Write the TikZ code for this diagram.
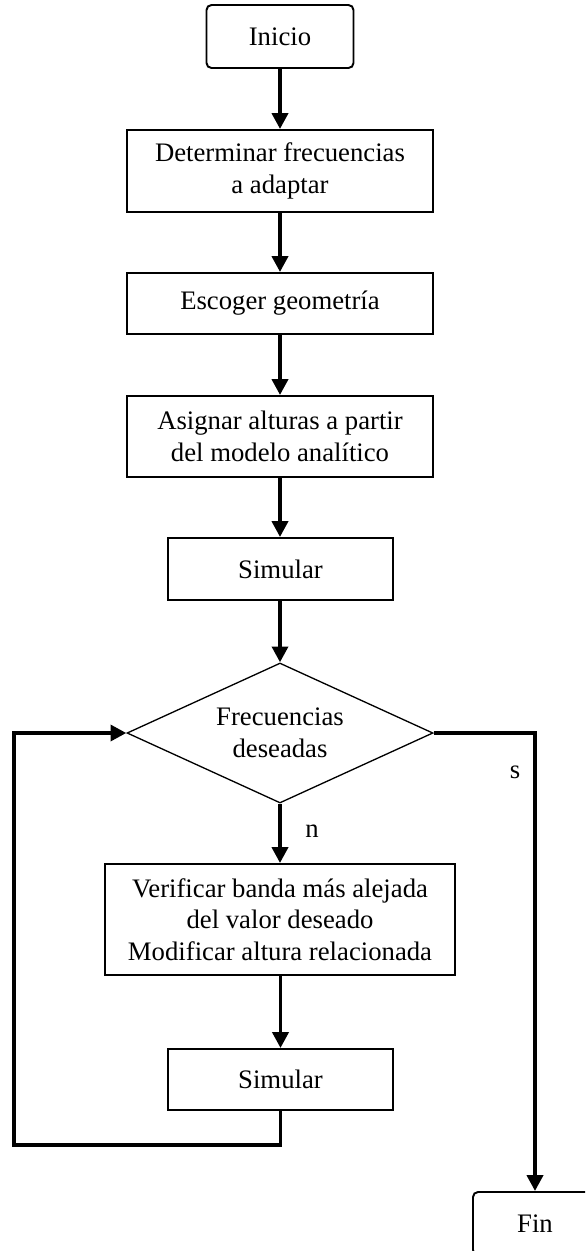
\documentclass[tikz,border=0pt]{standalone}
\usepackage{fontspec}
\setmainfont{Liberation Serif}
\usetikzlibrary{arrows.meta,shapes.geometric}

\tikzset{
  proc/.style={draw, line width=1.1pt, align=center, inner sep=0pt},
  term/.style={draw, line width=1.1pt, rounded corners=1mm, inner sep=0pt},
  flow/.style={line width=2.2pt, -{Triangle[length=9pt,width=9pt]}},
}

\begin{document}
\begin{tikzpicture}[x=0.2mm, y=-0.2mm, font=\fontsize{15.2}{18}\selectfont, line join=miter]

% Page frame (1 unit = 1 px of a 585 x 1251 page)
\clip (0,0) rectangle (585,1251);
\useasboundingbox (0,0) rectangle (585,1251);

% Start
\node[term, minimum width=29.4mm, minimum height=12.6mm] (ini) at (280,36.5) {Inicio};

% Main column of steps
\node[proc, minimum width=61.2mm, minimum height=16.4mm] (det) at (280,171)
  {Determinar frecuencias\\a adaptar};
\node[proc, minimum width=61.2mm, minimum height=12.2mm] (geo) at (280,303.5)
  {Escoger geometría};
\node[proc, minimum width=61.2mm, minimum height=16.2mm] (asig) at (280,436.5)
  {Asignar alturas a partir\\del modelo analítico};
\node[proc, minimum width=45mm, minimum height=12.4mm] (sim1) at (280.5,569)
  {Simular};

% Decision
\node[diamond, draw, line width=0.75pt, aspect=2.19, inner sep=0pt,
      minimum width=61.2mm, minimum height=28mm, align=center] (dec) at (280,733)
  {Frecuencias\\deseadas};

% Correction loop
\node[proc, minimum width=70mm, minimum height=22.2mm] (ver) at (280,919.5)
  {Verificar banda más alejada\\del valor deseado\\Modificar altura relacionada};
\node[proc, minimum width=45mm, minimum height=12.2mm] (sim2) at (280.5,1079.5)
  {Simular};

% End (runs off the right edge)
\node[term, minimum width=24.8mm, minimum height=12.6mm] (fin) at (535,1223.5) {Fin};

% Connectors
\draw[flow] (ini) -- (det);
\draw[flow] (det) -- (geo);
\draw[flow] (geo) -- (asig);
\draw[flow] (asig.south) -- (asig.south |- sim1.north);
\draw[flow] (sim1.south -| dec.north) -- (dec.north);
\draw[flow] (dec.south) -- (dec.south |- ver.north);
\draw[flow] (ver.south -| sim2.north) -- (sim2.north);

\coordinate (back) at (14,1145);
\draw[flow] (sim2.south) |- (back) |- (dec.west);
\draw[flow] (dec.east) -| (fin.north);

% Branch labels
\node (lbln) at (312,831) {n};
\node (lbls) at (515,772) {s};

\end{tikzpicture}
\end{document}
